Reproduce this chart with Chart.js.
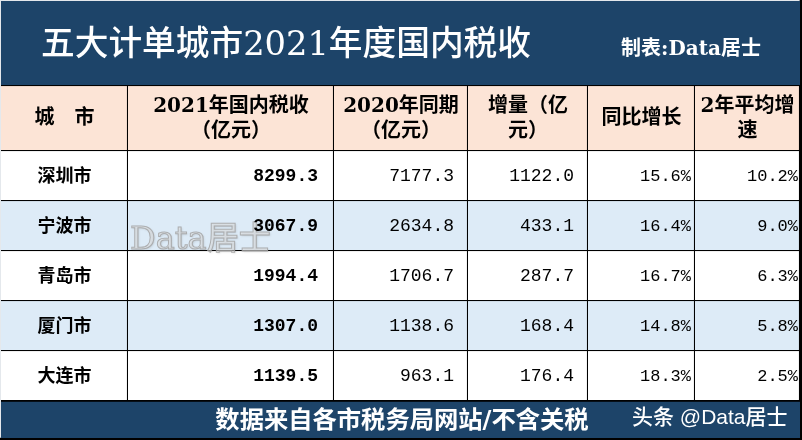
<!DOCTYPE html>
<html>
<head>
<meta charset="utf-8">
<style>
  html, body { margin: 0; padding: 0; background: #e4e8ec; }
  canvas { display: block; }
</style>
<script src="https://cdn.jsdelivr.net/npm/chart.js@4"></script>
</head>
<body>
<canvas id="taxTable" width="802" height="440"></canvas>
<script>
const titleText = "五大计单城市2021年度国内税收"
const creditText = "制表:Data居士"
const footerText = "数据来自各市税务局网站/不含关税"
const watermarkText = "Data居士"
const signatureText = "头条 @Data居士"
const headers = [
  ["城　市"],
  ["2021年国内税收", "（亿元）"],
  ["2020年同期", "（亿元）"],
  ["增量（亿", "元）"],
  ["同比增长"],
  ["2年平均增", "速"]
]
const cities = ["深圳市", "宁波市", "青岛市", "厦门市", "大连市"]
const tax2021 = ["8299.3", "3067.9", "1994.4", "1307.0", "1139.5"]
const tax2020 = ["7177.3", "2634.8", "1706.7", "1138.6", "963.1"]
const increase = ["1122.0", "433.1", "287.7", "168.4", "176.4"]
const growthYoy = ["15.6%", "16.4%", "16.7%", "14.8%", "18.3%"]
const growthTwoYear = ["10.2%", "9.0%", "6.3%", "5.8%", "2.5%"]

const columns = [cities, tax2021, tax2020, increase, growthYoy, growthTwoYear]

// table grid, in page pixels
const colEdges = [1, 128, 334, 468, 588, 695, 800]
const valueRight = [318, 454, 574, 691, 798]
const titleRow = [1, 86]
const headerRow = [86, 151]
const rowHeight = 50
const footerRow = [401, 438]

const navy = "#1d4469"
const peach = "#fce4d6"
const paleBlue = "#ddebf7"
const lineColor = "#000000"
const gridLine = 1.4

const monoFont = "'Liberation Mono', monospace"
const serifFont = "'DejaVu Serif', 'Noto Sans CJK SC', serif"
const sansFont = "'Noto Sans CJK SC', sans-serif"

function rowDataset(top, bottom, color, edges, border) {
  const cells = []
  for (let i = 0; i < edges.length - 1; i++) {
    cells.push({ x: [edges[i], edges[i + 1]], y: (top + bottom) / 2 })
  }
  return {
    data: cells,
    barThickness: bottom - top,
    backgroundColor: color,
    borderColor: lineColor,
    borderWidth: border,
    borderSkipped: false
  }
}

const cellBorder = { right: gridLine, bottom: gridLine }
const datasets = [
  rowDataset(titleRow[0], titleRow[1], navy, [colEdges[0], colEdges[6]], { bottom: gridLine }),
  rowDataset(headerRow[0], headerRow[1], peach, colEdges, cellBorder)
]
cities.forEach((city, i) => {
  const top = headerRow[1] + i * rowHeight
  datasets.push(rowDataset(top, top + rowHeight, i % 2 ? paleBlue : "#ffffff", colEdges, cellBorder))
})
datasets.push(rowDataset(footerRow[0], footerRow[1], navy, [colEdges[0], colEdges[6]], { top: 1 }))
// dark strips along the right and bottom edges of the picture
datasets.push(rowDataset(0, 440, lineColor, [800, 802], 0))
datasets.push(rowDataset(438, 440, lineColor, [0, 802], 0))

const tableText = {
  id: "tableText",
  afterDatasetsDraw(chart) {
    const ctx = chart.ctx
    const xs = chart.scales.x
    const ys = chart.scales.y
    const put = (text, x, y, font, color, align) => {
      ctx.font = font
      ctx.fillStyle = color
      ctx.textAlign = align || "center"
      ctx.textBaseline = "middle"
      ctx.fillText(text, xs.getPixelForValue(x), ys.getPixelForValue(y))
    }

    ctx.save()
    put(titleText, 41, 46, "500 33.7px " + serifFont, "#ffffff", "left")
    put(creditText, 691, 50, "bold 20px " + serifFont, "#ffffff")

    headers.forEach((lines, c) => {
      const cx = (colEdges[c] + colEdges[c + 1]) / 2
      lines.forEach((line, l) => {
        const y = lines.length > 1 ? 107 + l * 25 : 119
        put(line, cx, y, "bold 20px " + serifFont, "#000000")
      })
    })

    // watermark sits under the numbers, across the second and third rows
    ctx.save()
    ctx.font = "500 32px 'DejaVu Serif', 'Noto Sans CJK SC', serif"
    ctx.textAlign = "left"
    ctx.textBaseline = "middle"
    ctx.shadowColor = "rgba(110,110,110,0.5)"
    ctx.shadowBlur = 2
    ctx.shadowOffsetX = 1
    ctx.shadowOffsetY = 1
    ctx.fillStyle = "rgba(230,230,230,0.5)"
    ctx.fillText(watermarkText, 130, 241)
    ctx.shadowColor = "transparent"
    ctx.strokeStyle = "rgba(160,160,160,0.8)"
    ctx.lineWidth = 1
    ctx.strokeText(watermarkText, 130, 241)
    ctx.restore()

    cities.forEach((city, r) => {
      const y = headerRow[1] + r * rowHeight + rowHeight / 2
      put(city, (colEdges[0] + colEdges[1]) / 2, y - 1, "bold 18px " + sansFont, "#000000")
      columns.slice(1).forEach((values, c) => {
        const font = (c === 0 ? "bold " : "") + (c > 2 ? "17px " : "18px ") + monoFont
        put(values[r], valueRight[c], y, font, "#000000", "right")
      })
    })

    put(footerText, 402, 422, "bold 24.3px " + serifFont, "#ffffff")
    put(signatureText, 632, 418, "500 21px 'Liberation Sans', 'Noto Sans CJK SC', sans-serif", "#ffffff", "left")
    ctx.restore()
  }
}

new Chart(document.getElementById("taxTable"), {
  type: "bar",
  data: { datasets: datasets },
  plugins: [tableText],
  options: {
    indexAxis: "y",
    responsive: false,
    animation: false,
    layout: { padding: 0 },
    plugins: { legend: { display: false }, tooltip: { enabled: false } },
    scales: {
      x: { type: "linear", min: 0, max: 802, display: false },
      y: { type: "linear", min: 0, max: 440, reverse: true, offset: false, stacked: true, display: false }
    }
  }
})
</script>
</body>
</html>
